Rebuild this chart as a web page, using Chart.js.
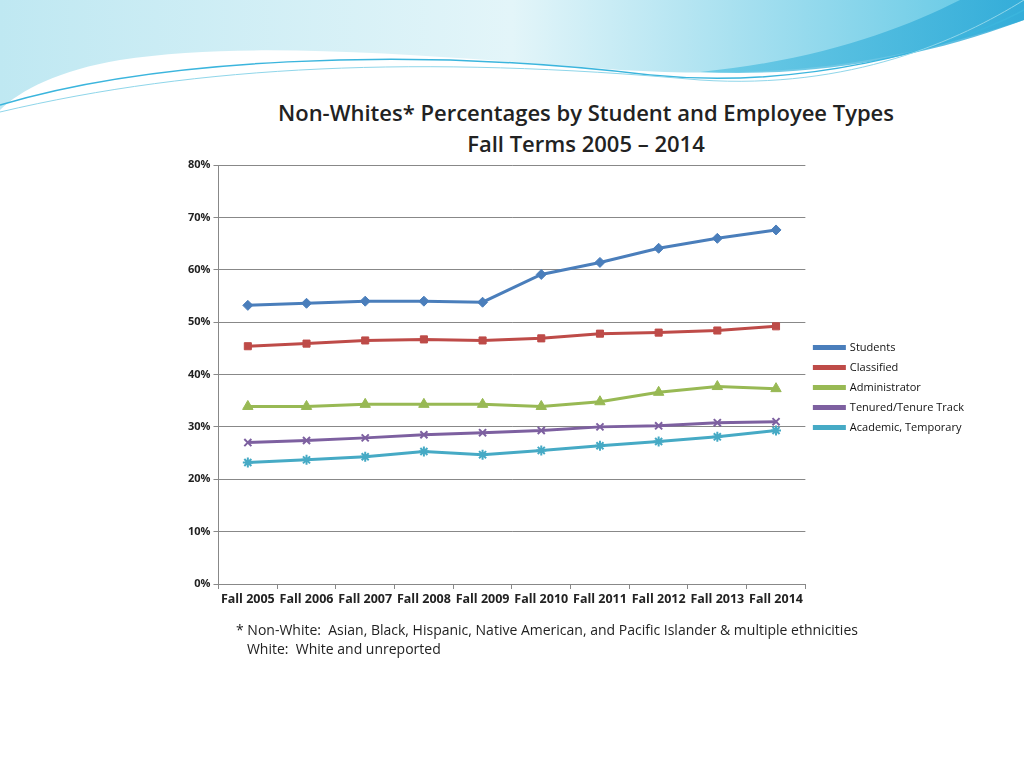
<!DOCTYPE html>
<html><head><meta charset="utf-8">
<script src="https://cdn.jsdelivr.net/npm/chart.js@4"></script>
<style>
body{margin:0;width:1024px;height:768px;overflow:hidden;background:#fff;font-family:"Open Sans",sans-serif;position:relative}
#bg{position:absolute;left:0;top:0}
#title{position:absolute;left:186px;width:800px;top:97px;text-align:center;font-size:22px;font-weight:600;color:#222;line-height:31px}
#note{position:absolute;left:236px;top:620px;font-size:14px;color:#222;line-height:19px}
#wrap{position:absolute;left:0;top:0;width:1024px;height:768px}
</style></head><body>
<svg id="bg" width="1024" height="120">
<defs><linearGradient id="g1" x1="0" x2="1"><stop offset="0" stop-color="#bfe8f2"/><stop offset="0.5" stop-color="#e3f5f9"/><stop offset="1" stop-color="#5cc6e4"/></linearGradient>
<linearGradient id="g2" x1="0" x2="1"><stop offset="0" stop-color="#6fd0e8"/><stop offset="1" stop-color="#2aa7d6"/></linearGradient></defs>
<path d="M0 0 H1024 V20 C900 60 800 80 620 70 C420 55 250 40 120 60 C60 70 20 90 0 110 Z" fill="url(#g1)"/>
<path d="M600 0 H1024 V20 C930 55 820 78 700 72 C820 60 900 30 960 0 Z" fill="url(#g2)" opacity="0.8"/>
<path d="M0 105 C150 60 400 45 650 75 C800 90 950 50 1024 10" stroke="#3bb5dd" stroke-width="1.5" fill="none"/>
<path d="M0 112 C200 65 420 55 700 80 C850 90 960 40 1024 0" stroke="#8fd6ea" stroke-width="1" fill="none"/>
</svg>
<div id="title">Non-Whites* Percentages by Student and Employee Types<br>Fall Terms 2005 – 2014</div>
<div id="wrap"><canvas id="c" width="1024" height="768"></canvas></div>
<div id="note">* Non-White:&nbsp; Asian, Black, Hispanic, Native American, and Pacific Islander &amp; multiple ethnicities<br>&nbsp;&nbsp;&nbsp;White:&nbsp; White and unreported</div>
<script>
const categories=["Fall 2005","Fall 2006","Fall 2007","Fall 2008","Fall 2009","Fall 2010","Fall 2011","Fall 2012","Fall 2013","Fall 2014"];
const students=[53.2,53.6,54.0,54.0,53.8,59.1,61.4,64.1,66.0,67.6];
const classified=[45.4,45.9,46.5,46.7,46.5,46.9,47.8,48.0,48.4,49.2];
const administrator=[33.9,33.9,34.3,34.3,34.3,33.9,34.8,36.6,37.7,37.3];
const tenured=[27.0,27.4,27.9,28.5,28.9,29.3,30.0,30.2,30.8,31.0];
const academic=[23.2,23.7,24.3,25.3,24.7,25.5,26.4,27.2,28.1,29.3];
const yTicks=[0,10,20,30,40,50,60,70,80];
function ds(label,data,color,ps,r){return{label,data,borderColor:color,backgroundColor:color,borderWidth:3,pointStyle:ps,pointRadius:r,pointBorderWidth:ps==='crossRot'||ps==='star'?2:1,tension:0};}
const shiftLegend={id:'shiftLegend',afterLayout(chart){const l=chart.legend;if(l&&l.legendHitBoxes){l.legendHitBoxes.forEach(b=>{b.top+=30;});}}};
new Chart(document.getElementById('c'),{type:'line',plugins:[shiftLegend],
data:{labels:categories,datasets:[
ds('Students',students,'#4a7ebb','rectRot',5),
ds('Classified',classified,'#be4b48','rect',5),
ds('Administrator',administrator,'#98b954','triangle',6),
ds('Tenured/Tenure Track',tenured,'#7d60a0','crossRot',5),
ds('Academic, Temporary',academic,'#46aac5','star',5)]},
options:{responsive:false,animation:false,
layout:{padding:{left:185,right:50,top:165,bottom:158}},
plugins:{legend:{position:'right',labels:{font:{size:11,family:'Open Sans'},color:'#111',boxWidth:30,boxHeight:2,padding:9}},tooltip:{enabled:false}},
scales:{x:{offset:true,grid:{display:true,drawOnChartArea:false,offset:true,color:'#888',tickLength:5},border:{color:'#888'},
ticks:{font:{size:12.5,weight:'bold',family:'Open Sans'},color:'#222',maxRotation:0,autoSkip:false}},
y:{min:0,max:80,afterBuildTicks:a=>{a.ticks=yTicks.map(v=>({value:v}));},
grid:{color:'#888',tickLength:5},border:{color:'#888'},
ticks:{font:{size:11,weight:'bold',family:'Open Sans'},color:'#222',callback:v=>v+'%'}}}}});
</script></body></html>
